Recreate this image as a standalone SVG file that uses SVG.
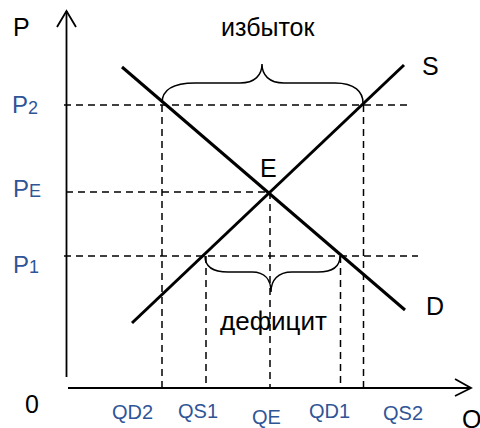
<svg xmlns="http://www.w3.org/2000/svg" width="480" height="428" viewBox="0 0 480 428">
<style>
.axis{stroke:#000;stroke-width:1.8;fill:none}
.dash{stroke:#000;stroke-width:1.5;stroke-dasharray:7 5;fill:none}
.curve{stroke:#000;stroke-width:3;fill:none}
.brace{stroke:#000;stroke-width:1.5;fill:none}
.lbl{font-family:"Liberation Sans",Arial,sans-serif;font-size:25px;fill:#000}
.blue{font-family:"Liberation Sans",Arial,sans-serif;font-size:20px;fill:#2F5597}
.pb{font-family:"Liberation Sans",Arial,sans-serif;font-size:24px;fill:#2F5597}
</style>
<rect width="480" height="428" fill="#fff"/>
<g id="connectors">
<line class="axis" x1="66.5" y1="11" x2="66.5" y2="377"/>
<polyline class="axis" points="57,27 66.5,11 76,27"/>
<line class="axis" x1="68" y1="388" x2="471" y2="388"/>
<polyline class="axis" points="455,379 471,388 455,396"/>
<line class="dash" x1="64" y1="105" x2="408" y2="105"/>
<line class="dash" x1="66" y1="192" x2="270" y2="192"/>
<line class="dash" x1="64" y1="256" x2="418" y2="256"/>
<line class="dash" x1="162" y1="105" x2="162" y2="388"/>
<line class="dash" x1="206" y1="256" x2="206" y2="388"/>
<line class="dash" x1="270" y1="192" x2="270" y2="388"/>
<line class="dash" x1="340.5" y1="256" x2="340.5" y2="388"/>
<line class="dash" x1="363.5" y1="105" x2="363.5" y2="388"/>
</g>
<g id="supply">
<line class="curve" x1="132" y1="323" x2="404" y2="65"/>
<text class="lbl" x="422" y="75">S</text>
</g>
<g id="demand">
<line class="curve" x1="122" y1="67" x2="405" y2="310"/>
<text class="lbl" x="426" y="315">D</text>
</g>
<g id="equilibrium">
<text class="lbl" x="260" y="177">E</text>
</g>
<g id="surplus">
<path class="brace" d="M162,103 C162,90 172,83 195,83 L240,83 C255,83 262,75 262,64 C262,75 269,83 284,83 L335,83 C355,83 363,92 363,103"/>
<text class="lbl" x="221" y="36" font-size="25.5">избыток</text>
</g>
<g id="deficit">
<path class="brace" d="M205,256 C205,266 212,272 228,272 L252,272 C265,272 271,280 271,292 C271,280 278,272 292,272 L318,272 C333,272 340,266 340,256"/>
<text class="lbl" x="220" y="330" style="font-size:26px">дефицит</text>
</g>
<g id="axis-labels">
<text class="lbl" x="13" y="36">P</text>
<text class="lbl" x="462" y="428">Q</text>
<text class="lbl" x="25" y="413">0</text>
<text class="pb" x="12" y="113">P<tspan font-size="18" dy="1">2</tspan></text>
<text class="pb" x="13" y="197">P<tspan font-size="18">E</tspan></text>
<text class="pb" x="13" y="273">P<tspan font-size="18">1</tspan></text>
<text class="blue" x="112" y="419">QD2</text>
<text class="blue" x="178" y="418">QS1</text>
<text class="blue" x="252" y="424">QE</text>
<text class="blue" x="309" y="418">QD1</text>
<text class="blue" x="383" y="420">QS2</text>
</g>
</svg>
